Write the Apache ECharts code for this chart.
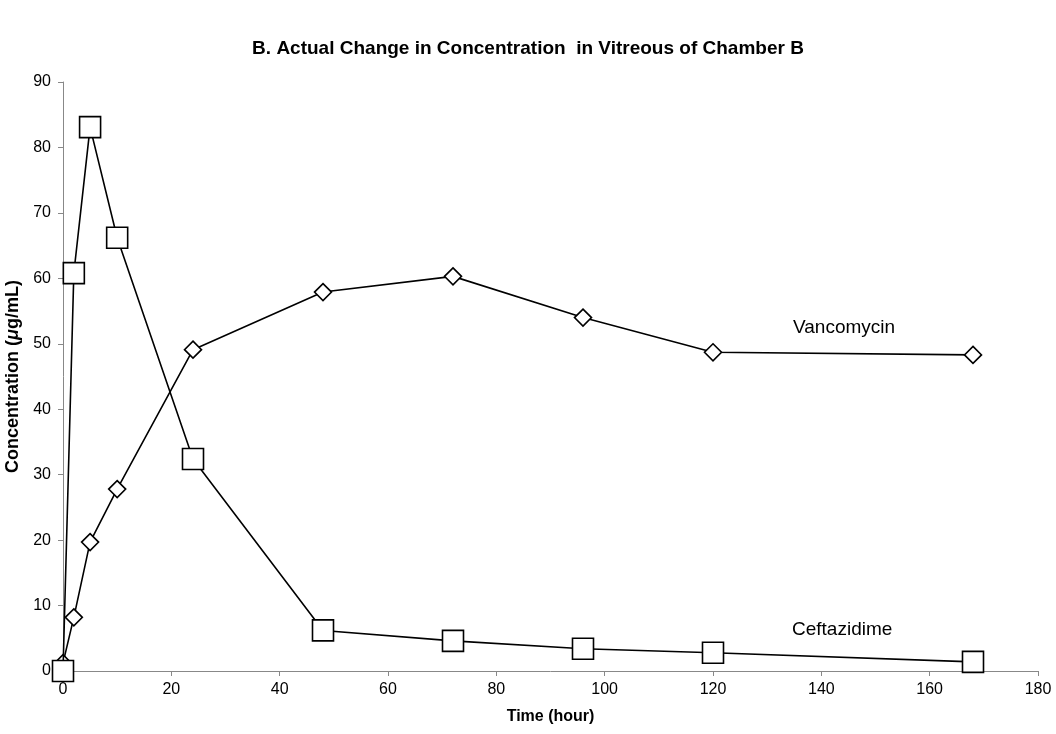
<!DOCTYPE html>
<html>
<head>
<meta charset="utf-8">
<script src="https://cdn.jsdelivr.net/npm/echarts@6/dist/echarts.min.js"></script>
<style>html,body{margin:0;padding:0;background:#fff;}#c{width:1056px;height:734px;}</style>
</head>
<body>
<div id="c"></div>
<script>
var timeHours = [0, 2, 5, 10, 24, 48, 72, 96, 120, 168];
var ceftazidime = [0, 60.8, 83.1, 66.2, 32.4, 6.2, 4.6, 3.4, 2.8, 1.4];
var vancomycin = [1.2, 8.2, 19.7, 27.8, 49.1, 57.9, 60.3, 54.0, 48.7, 48.3];
var xTicks = [0, 20, 40, 60, 80, 100, 120, 140, 160, 180];
var yTicks = [0, 10, 20, 30, 40, 50, 60, 70, 80, 90];
var seriesLabels = ['Vancomycin', 'Ceftazidime'];

function pairs(xs, ys) { return xs.map(function (x, i) { return [x, ys[i]]; }); }

var font = '"Liberation Sans", Arial, sans-serif';
var chart = echarts.init(document.getElementById('c'));
chart.setOption({
  animation: false,
  backgroundColor: '#fff',
  textStyle: { fontFamily: font, color: '#000' },
  title: {
    text: 'B. Actual Change in Concentration  in Vitreous of Chamber B',
    left: 'center', top: 34,
    textStyle: { fontFamily: font, fontSize: 19, fontWeight: 'bold', color: '#000' }
  },
  grid: { left: 63, right: 18, top: 82, bottom: 63, containLabel: false, outerBoundsMode: 'none' },
  xAxis: {
    type: 'value', min: xTicks[0], max: xTicks[xTicks.length - 1], interval: 20,
    name: 'Time (hour)', nameLocation: 'middle', nameGap: 38,
    nameTextStyle: { fontFamily: font, fontSize: 16, fontWeight: 'bold', color: '#000' },
    axisLine: { lineStyle: { color: '#888', width: 1 } },
    axisTick: { show: true, length: 5, lineStyle: { color: '#888' } },
    axisLabel: { fontFamily: font, fontSize: 16, color: '#000', margin: 11 },
    splitLine: { show: false }
  },
  yAxis: {
    type: 'value', min: yTicks[0], max: yTicks[yTicks.length - 1], interval: 10,
    name: 'Concentration ({i|μ}g/mL)', nameLocation: 'middle', nameGap: 30, nameRotate: 90,
    nameTextStyle: { fontFamily: font, fontSize: 18, fontWeight: 'bold', color: '#000',
      rich: { i: { fontFamily: font, fontSize: 18, fontWeight: 'bold', fontStyle: 'italic', color: '#000' } } },
    axisLine: { show: true, lineStyle: { color: '#888', width: 1 } },
    axisTick: { show: true, length: 5, lineStyle: { color: '#888' } },
    axisLabel: { fontFamily: font, fontSize: 16, color: '#000', margin: 12 },
    splitLine: { show: false }
  },
  series: [
    {
      name: seriesLabels[0], type: 'line', data: pairs(timeHours, vancomycin),
      symbol: 'diamond', symbolSize: 17, showAllSymbol: true,
      lineStyle: { color: '#000', width: 1.6 },
      itemStyle: { color: '#fff', borderColor: '#000', borderWidth: 1.6 },
      z: 2
    },
    {
      name: seriesLabels[1], type: 'line', data: pairs(timeHours, ceftazidime),
      symbol: 'rect', symbolSize: 21, showAllSymbol: true,
      lineStyle: { color: '#000', width: 1.6 },
      itemStyle: { color: '#fff', borderColor: '#000', borderWidth: 1.6 },
      z: 3
    }
  ],
  graphic: [
    { type: 'text', left: 793, top: 318, style: { text: seriesLabels[0], font: '19px ' + font, fill: '#000' } },
    { type: 'text', left: 792, top: 620, style: { text: seriesLabels[1], font: '19px ' + font, fill: '#000' } }
  ]
});
</script>
</body>
</html>
